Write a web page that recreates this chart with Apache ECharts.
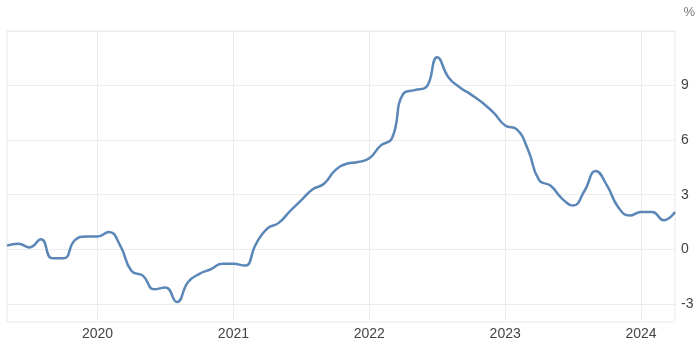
<!DOCTYPE html>
<html>
<head>
<meta charset="utf-8">
<script src="https://cdn.jsdelivr.net/npm/echarts@6/dist/echarts.min.js"></script>
<style>
  html, body { margin: 0; padding: 0; background: #fff; }
  #chart { width: 700px; height: 345px; }
</style>
</head>
<body>
<div id="chart"></div>
<script>
// monthly, May 2019 - Apr 2024
var months = [
  "2019-05", "2019-06", "2019-07", "2019-08", "2019-09", "2019-10", "2019-11", "2019-12",
  "2020-01", "2020-02", "2020-03", "2020-04", "2020-05", "2020-06", "2020-07", "2020-08", "2020-09", "2020-10", "2020-11", "2020-12",
  "2021-01", "2021-02", "2021-03", "2021-04", "2021-05", "2021-06", "2021-07", "2021-08", "2021-09", "2021-10", "2021-11", "2021-12",
  "2022-01", "2022-02", "2022-03", "2022-04", "2022-05", "2022-06", "2022-07", "2022-08", "2022-09", "2022-10", "2022-11", "2022-12",
  "2023-01", "2023-02", "2023-03", "2023-04", "2023-05", "2023-06", "2023-07", "2023-08", "2023-09", "2023-10", "2023-11", "2023-12",
  "2024-01", "2024-02", "2024-03", "2024-04"
];
var values = [
  0.2, 0.3, 0.1, 0.55, -0.5, -0.5, 0.5, 0.7,
  0.7, 0.95, 0.2, -1.2, -1.45, -2.2, -2.1, -2.9, -1.8, -1.35, -1.1, -0.8,
  -0.8, -0.9, 0.3, 1.15, 1.45, 2.1, 2.7, 3.3, 3.6, 4.35, 4.7, 4.8,
  5.0, 5.7, 6.1, 8.55, 8.75, 8.9, 10.55, 9.45, 8.9, 8.5, 8.05, 7.5,
  6.8, 6.6, 5.5, 3.8, 3.5, 2.8, 2.4, 3.2, 4.3, 3.5, 2.3, 1.85,
  2.05, 2.05, 1.6, 2.05
];
var yTicks = [-3, 0, 3, 6, 9];
var yGrid = [-3, 0, 3, 6, 9, 12];

function isJanuary(idx, name) {
  return name.slice(5) === "01";
}

var myChart = echarts.init(document.getElementById("chart"));
myChart.setOption({
  animation: false,
  textStyle: { fontFamily: "Liberation Sans, Arial, sans-serif" },
  grid: {
    left: 7,
    right: 25,
    top: 31,
    bottom: 23,
    show: true,
    borderColor: "#e8e8e8",
    borderWidth: 1
  },
  graphic: [{
    type: "text",
    right: 5,
    top: 6,
    style: { text: "%", fill: "#777", fontSize: 13, fontFamily: "Liberation Sans, Arial, sans-serif" }
  }],
  xAxis: {
    type: "category",
    boundaryGap: false,
    data: months,
    axisLine: { show: false },
    axisTick: { show: false },
    axisLabel: {
      interval: isJanuary,
      formatter: function (v) { return v.slice(0, 4); },
      color: "#444",
      fontSize: 14,
      margin: 5
    },
    splitLine: {
      show: true,
      interval: isJanuary,
      lineStyle: { color: "#ececec", width: 1 }
    }
  },
  yAxis: {
    type: "value",
    position: "right",
    min: -4,
    max: 12,
    axisLine: { show: false },
    axisTick: { show: false, customValues: yGrid },
    axisLabel: {
      customValues: yTicks,
      color: "#444",
      fontSize: 14,
      margin: 6
    },
    splitLine: {
      show: true,
      lineStyle: { color: "#ececec", width: 1 }
    }
  },
  series: [{
    type: "line",
    data: values,
    smooth: 0.5,
    symbol: "none",
    lineStyle: { color: "#5a86b8", width: 2.5 }
  }]
});
</script>
</body>
</html>
